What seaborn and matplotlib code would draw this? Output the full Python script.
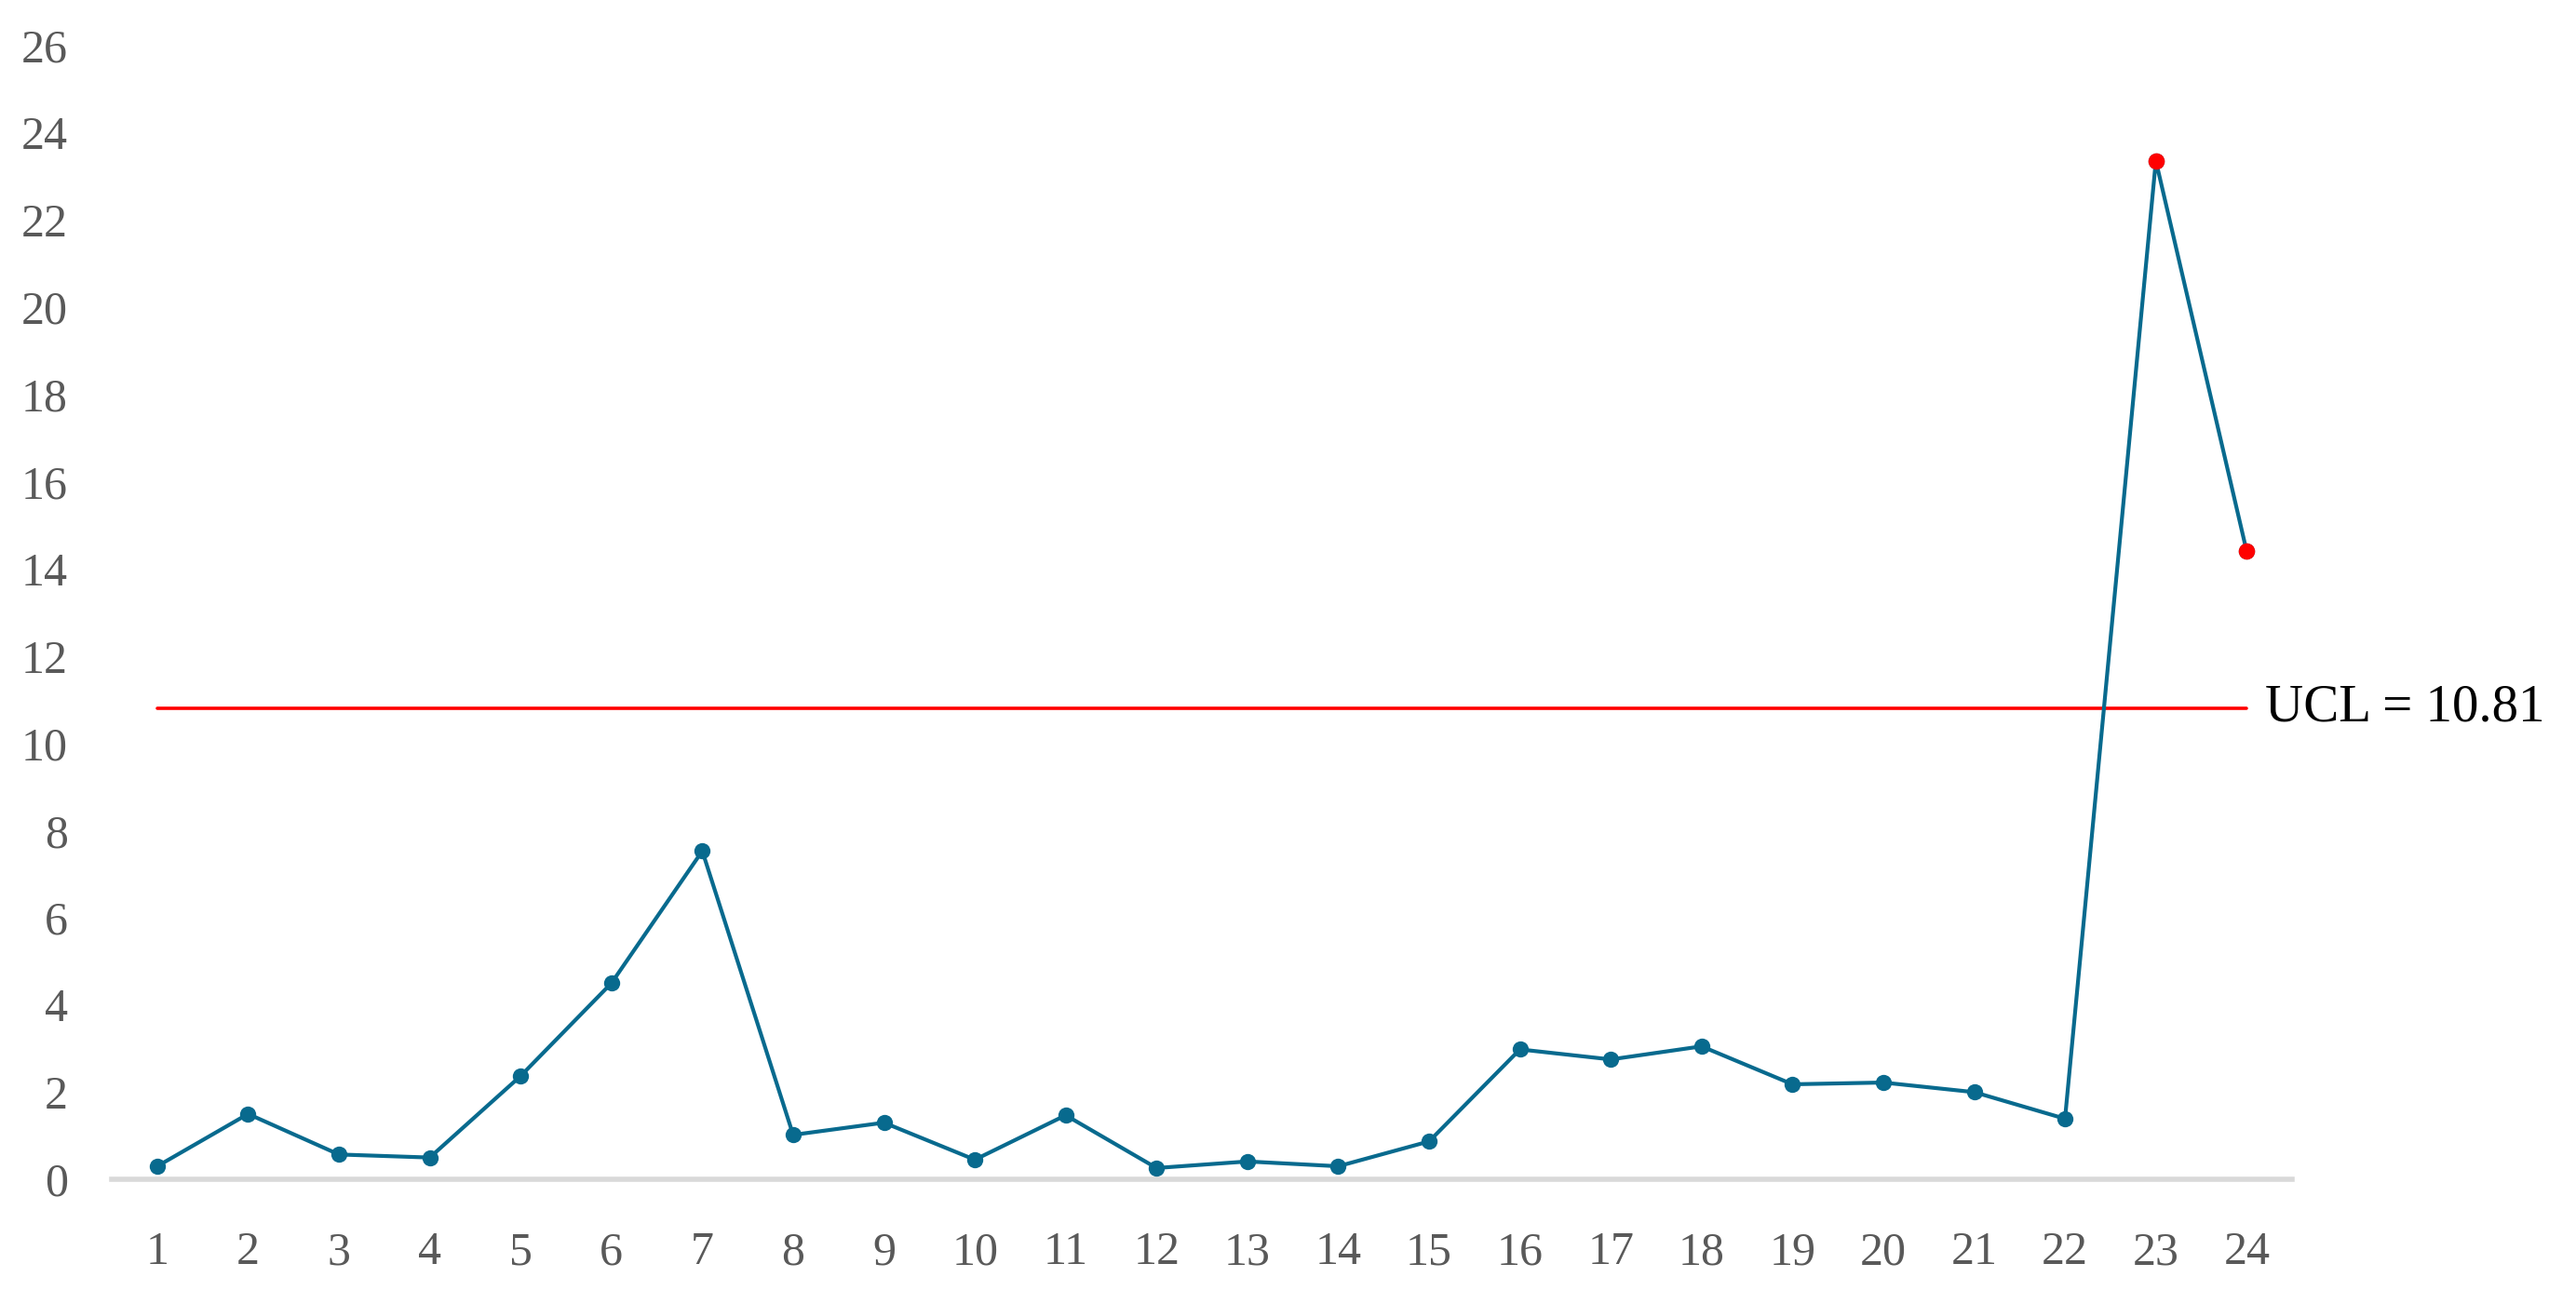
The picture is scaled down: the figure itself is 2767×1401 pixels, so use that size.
import numpy as np
import pandas as pd
import matplotlib.pyplot as plt
import seaborn as sns

# sample numbers and the plotted statistic
samples = list(range(1, 25))
values = [0.30, 1.50, 0.57, 0.50, 2.37, 4.50, 7.53, 1.02, 1.30, 0.45, 1.47, 0.26,
          0.41, 0.30, 0.87, 2.98, 2.75, 3.05, 2.18, 2.22, 2.00, 1.39, 23.36, 14.40]
ucl = 10.81
yticks = list(range(0, 27, 2))

df = pd.DataFrame({"Sample": samples, "Value": values})
out = df[df["Value"] > ucl]

sns.set_style("white")
plt.rcParams['font.family'] = ['Liberation Serif', 'DejaVu Serif']

fig, ax = plt.subplots(figsize=(27.67, 14.01), dpi=100)
fig.subplots_adjust(left=0.0434, right=0.8898, bottom=0.0956, top=0.965)

blue = "#086A8E"
sns.lineplot(data=df, x="Sample", y="Value", color=blue, linewidth=3,
             marker="o", markersize=12.5, markeredgewidth=0, ax=ax)
sns.scatterplot(data=out, x="Sample", y="Value", color="#FF0000", s=160,
                linewidth=0, zorder=5, ax=ax)

ax.plot([samples[0], samples[-1]], [ucl, ucl], color="#FF0000", linewidth=2.6, zorder=1)
ax.text(samples[-1] + 0.2, ucl, f"UCL = {ucl}", fontsize=41, color="black",
        va="center", ha="left")

ax.set_xlim(0.5, 24.5)
ax.set_ylim(0, 26)
ax.set_xticks(samples)
ax.set_yticks(yticks)
ax.tick_params(axis="both", length=0, labelsize=36, colors="#595959")
ax.tick_params(axis="x", pad=40)
ax.tick_params(axis="y", pad=34)
ax.set_xlabel("")
ax.set_ylabel("")
for s in ["top", "right", "left"]:
    ax.spines[s].set_visible(False)
ax.spines["bottom"].set_color("#D9D9D9")
ax.spines["bottom"].set_linewidth(4)
ax.spines["bottom"].set_zorder(0)

plt.savefig("out.png", dpi=100)
